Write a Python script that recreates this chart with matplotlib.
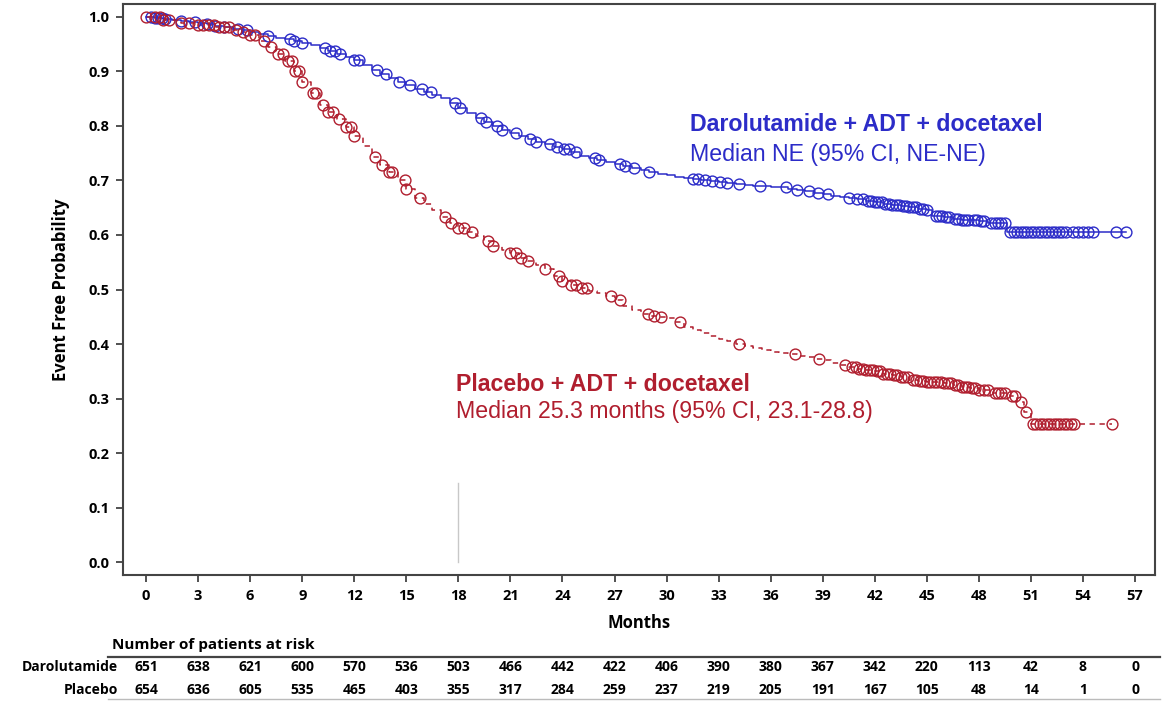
import numpy as np
import matplotlib
matplotlib.use("Agg")
import matplotlib.pyplot as plt
from matplotlib.lines import Line2D
import matplotlib.transforms as mtransforms

# Darolutamide + ADT + docetaxel: KM steps (months, survival) and censor times
daro_t = [0, 0.5, 1.0, 1.5, 2.0, 2.5, 3.0, 3.5, 4.0, 4.5, 5.0, 5.5, 6.0, 6.5, 7.0,
          7.5, 8.0, 8.5, 9.0, 9.5, 10.0, 10.5, 11.0, 11.5, 12.0, 12.5, 13.0, 13.5,
          14.0, 14.5, 15.0, 15.5, 16.0, 16.5, 17.0, 17.5, 18.0, 18.5, 19.0, 19.5,
          20.0, 20.5, 21.0, 21.5, 22.0, 22.5, 23.0, 23.5, 24.0, 24.5, 25.0, 25.5,
          26.0, 26.5, 27.0, 27.5, 28.0, 28.5, 29.0, 29.5, 30.0, 30.5, 31.0, 31.5,
          32.0, 32.5, 33.0, 33.5, 34.0, 34.5, 35.0, 36.0, 37.0, 37.5, 38.0, 38.5,
          39.0, 39.5, 40.0, 40.5, 41.0, 41.5, 42.0, 42.5, 43.0, 43.5, 44.0, 44.5,
          45.0, 45.3, 46.0, 46.5, 47.0, 47.5, 48.0, 48.5, 49.6]
daro_s = [1.0, 0.998, 0.996, 0.994, 0.992, 0.990, 0.988, 0.986, 0.983, 0.980, 0.978,
          0.975, 0.972, 0.968, 0.965, 0.961, 0.958, 0.955, 0.952, 0.947, 0.942, 0.937,
          0.932, 0.926, 0.920, 0.911, 0.903, 0.895, 0.888, 0.881, 0.875, 0.868, 0.862,
          0.856, 0.850, 0.841, 0.832, 0.823, 0.815, 0.807, 0.800, 0.793, 0.787, 0.781,
          0.775, 0.770, 0.766, 0.761, 0.757, 0.751, 0.745, 0.741, 0.738, 0.734, 0.730,
          0.726, 0.722, 0.718, 0.715, 0.712, 0.710, 0.707, 0.705, 0.702, 0.700, 0.698,
          0.697, 0.695, 0.694, 0.692, 0.690, 0.688, 0.685, 0.683, 0.680, 0.677, 0.675,
          0.672, 0.670, 0.667, 0.665, 0.662, 0.660, 0.657, 0.655, 0.653, 0.651, 0.648,
          0.645, 0.634, 0.632, 0.630, 0.628, 0.627, 0.625, 0.622, 0.606]
daro_cens = [0.3, 0.5, 0.7, 0.9, 1.1, 2.0, 2.8, 3.5, 4.0, 4.5, 5.3, 5.8, 7.0, 8.3,
             8.5, 9.0, 10.3, 10.6, 10.9, 11.2, 12.0, 12.3, 13.3, 13.8, 14.6, 15.2,
             15.9, 16.4, 17.8, 18.1, 19.3, 19.6, 20.2, 20.5, 21.3, 22.1, 22.5, 23.3,
             23.7, 24.1, 24.4, 24.8, 25.9, 26.1, 27.3, 27.6, 28.1, 29.0, 31.5, 31.8,
             32.2, 32.6, 33.1, 33.5, 34.2, 35.4, 36.9, 37.5, 38.2, 38.7, 39.3, 40.5,
             41.0, 41.3, 41.6, 41.8, 42.0, 42.2, 42.4, 42.6, 42.8, 43.0, 43.2, 43.4,
             43.6, 43.8, 44.0, 44.2, 44.4, 44.6, 44.8, 45.0, 45.5, 45.7, 45.9, 46.1,
             46.3, 46.6, 46.8, 47.0, 47.2, 47.4, 47.7, 47.9, 48.1, 48.3, 48.7, 48.9,
             49.1, 49.3, 49.5, 49.8, 50.0, 50.2, 50.4, 50.6, 50.8, 51.0, 51.2, 51.4,
             51.6, 51.8, 52.0, 52.2, 52.4, 52.6, 52.8, 53.0, 53.4, 53.7, 54.0, 54.3,
             54.6, 55.9, 56.5]

# Placebo + ADT + docetaxel
plac_t = [0, 1, 2, 3, 4, 5, 5.5, 6, 6.5, 7.0, 7.5, 8.0, 8.5, 9.0, 9.5, 10.0, 10.5,
          11.0, 11.5, 12.0, 12.5, 13.0, 13.5, 14.0, 14.5, 15.0, 15.5, 16.0, 16.5,
          17.0, 17.5, 18.0, 18.5, 19.0, 19.5, 20.0, 20.5, 21.0, 21.5, 22.0, 22.5,
          23.0, 23.5, 24.0, 24.5, 25.0, 25.5, 26.0, 26.5, 27.0, 27.5, 28.0, 28.5,
          29.0, 29.5, 30.0, 30.5, 31.0, 31.5, 32.0, 32.5, 33.0, 33.5, 34.0, 34.5,
          35.0, 35.5, 36.0, 36.5, 37.0, 37.5, 38.0, 38.5, 39.0, 39.5, 40.0, 40.5,
          41.0, 41.5, 42.0, 42.5, 43.0, 43.5, 44.0, 44.5, 45.0, 46.0, 46.5, 47.0,
          47.5, 48.0, 48.8, 49.8, 50.2, 50.6, 51.0]
plac_s = [1.0, 0.993, 0.988, 0.984, 0.980, 0.975, 0.971, 0.967, 0.955, 0.945, 0.932,
          0.918, 0.900, 0.880, 0.860, 0.838, 0.825, 0.812, 0.798, 0.782, 0.762, 0.742,
          0.728, 0.716, 0.700, 0.684, 0.668, 0.656, 0.645, 0.633, 0.622, 0.612, 0.605,
          0.598, 0.588, 0.580, 0.572, 0.566, 0.558, 0.552, 0.545, 0.538, 0.525, 0.515,
          0.508, 0.503, 0.498, 0.493, 0.488, 0.480, 0.470, 0.462, 0.455, 0.452, 0.450,
          0.448, 0.440, 0.432, 0.426, 0.420, 0.415, 0.410, 0.405, 0.400, 0.396, 0.392,
          0.389, 0.386, 0.383, 0.381, 0.378, 0.376, 0.373, 0.370, 0.366, 0.362, 0.358,
          0.355, 0.352, 0.350, 0.346, 0.343, 0.339, 0.335, 0.332, 0.330, 0.328, 0.325,
          0.322, 0.319, 0.316, 0.310, 0.305, 0.293, 0.275, 0.254]
plac_cens = [0.0, 0.5, 0.8, 1.0, 1.3, 2.0, 2.5, 3.0, 3.3, 3.6, 3.9, 4.2, 4.5, 4.8,
             5.2, 5.6, 6.0, 6.3, 6.8, 7.2, 7.6, 7.9, 8.2, 8.4, 8.6, 8.8, 9.0, 9.6,
             9.8, 10.2, 10.5, 10.8, 11.1, 11.5, 11.8, 12.0, 13.2, 13.6, 14.0, 14.2,
             14.9, 15.0, 15.8, 17.2, 17.6, 18.0, 18.3, 18.8, 19.7, 20.0, 21.0, 21.3,
             21.6, 22.0, 23.0, 23.8, 24.0, 24.5, 24.8, 25.1, 25.4, 26.8, 27.3, 28.9,
             29.3, 29.7, 30.8, 34.2, 37.4, 38.8, 40.3, 40.7, 40.9, 41.1, 41.3, 41.5,
             41.7, 41.9, 42.1, 42.3, 42.5, 42.7, 42.9, 43.1, 43.3, 43.5, 43.7, 43.9,
             44.2, 44.4, 44.6, 44.8, 45.0, 45.2, 45.4, 45.6, 45.8, 46.0, 46.2, 46.4,
             46.6, 46.8, 47.0, 47.2, 47.4, 47.6, 47.8, 48.0, 48.3, 48.5, 48.9, 49.1,
             49.3, 49.5, 49.9, 50.1, 50.4, 50.7, 51.1, 51.3, 51.5, 51.7, 51.9, 52.1,
             52.3, 52.5, 52.7, 52.9, 53.1, 53.3, 53.5, 55.7]

# at-risk table
risk_times = list(range(0, 58, 3))
risk_daro = [651, 638, 621, 600, 570, 536, 503, 466, 442, 422, 406, 390, 380, 367,
             342, 220, 113, 42, 8, 0]
risk_plac = [654, 636, 605, 535, 465, 403, 355, 317, 284, 259, 237, 219, 205, 191,
             167, 105, 48, 14, 1, 0]

BLUE = "#2c2cc8"
RED = "#b01e2e"


def step_at(times, surv, pts):
    idx = np.searchsorted(times, pts, side="right") - 1
    return np.asarray(surv)[idx]


fig = plt.figure(figsize=(11.64, 7.01), dpi=100)
ax = fig.add_axes([123 / 1164, 1 - 575 / 701, (1155 - 123) / 1164, (575 - 4) / 701])

# curves
ax.step(daro_t + [56.5], daro_s + [daro_s[-1]], where="post", color=BLUE, lw=1.1)
ax.step(plac_t + [55.7], plac_s + [plac_s[-1]], where="post", color=RED, lw=1.1,
        dashes=(3.5, 3))
ax.plot(daro_cens, step_at(daro_t, daro_s, daro_cens), "o", mfc="none", mec=BLUE,
        ms=7.8, mew=1.0)
ax.plot(plac_cens, step_at(plac_t, plac_s, plac_cens), "o", mfc="none", mec=RED,
        ms=7.8, mew=1.0)

# thin grey reference line at 18 months
ax.plot([18, 18], [0, 0.145], color="#c8c8c8", lw=1.0)

ax.set_xlim(-1.33, 58.15)
ax.set_ylim(-0.023, 1.023)
ax.set_xticks(risk_times)
ax.set_yticks(np.arange(0, 1.01, 0.1))
ax.set_yticklabels([f"{v:.1f}" for v in np.arange(0, 1.01, 0.1)])
for lab in ax.get_xticklabels() + ax.get_yticklabels():
    lab.set_fontfamily("Open Sans")
    lab.set_fontweight("bold")
    lab.set_fontsize(10.5)
ax.tick_params(direction="out", length=5, width=1.2, color="#333333", pad=5)
for sp in ax.spines.values():
    sp.set_linewidth(1.5)
    sp.set_color("#444444")

ax.set_ylabel("Event Free Probability", family="Open Sans", weight="bold", size=12,
              labelpad=13)
ax.set_xlabel("Months", family="Open Sans", weight="bold", size=12, labelpad=8)

# curve labels
ax.text(31.35, 0.802, "Darolutamide + ADT + docetaxel", color=BLUE,
        family="Liberation Sans", weight="bold", size=16.7, va="center")
ax.text(31.35, 0.747, "Median NE (95% CI, NE-NE)", color=BLUE,
        family="Liberation Sans", size=16.7, va="center")
ax.text(17.85, 0.326, "Placebo + ADT + docetaxel", color=RED,
        family="Liberation Sans", weight="bold", size=16.7, va="center")
ax.text(17.85, 0.276, "Median 25.3 months (95% CI, 23.1-28.8)", color=RED,
        family="Liberation Sans", size=16.7, va="center")

# number at risk table
trans = mtransforms.blended_transform_factory(ax.transData, fig.transFigure)
fig.text(112 / 1164, 1 - 645 / 701, "Number of patients at risk", family="Open Sans",
         weight="bold", size=11, va="center", ha="left")
fig.add_artist(Line2D([108 / 1164, 1160 / 1164], [1 - 657 / 701] * 2,
                      color="#444444", lw=1.6))
fig.add_artist(Line2D([108 / 1164, 1160 / 1164], [1 - 699 / 701] * 2,
                      color="#bbbbbb", lw=1.0))
row_font = dict(family="Open Sans", weight="bold", size=10, va="center")
fig.text(118 / 1164, 1 - 667 / 701, "Darolutamide", ha="right", **row_font)
fig.text(118 / 1164, 1 - 690 / 701, "Placebo", ha="right", **row_font)
for t, d, p in zip(risk_times, risk_daro, risk_plac):
    ax.text(t, 1 - 667 / 701, str(d), transform=trans, ha="center", **row_font)
    ax.text(t, 1 - 690 / 701, str(p), transform=trans, ha="center", **row_font)

fig.savefig("out.png", dpi=100)
